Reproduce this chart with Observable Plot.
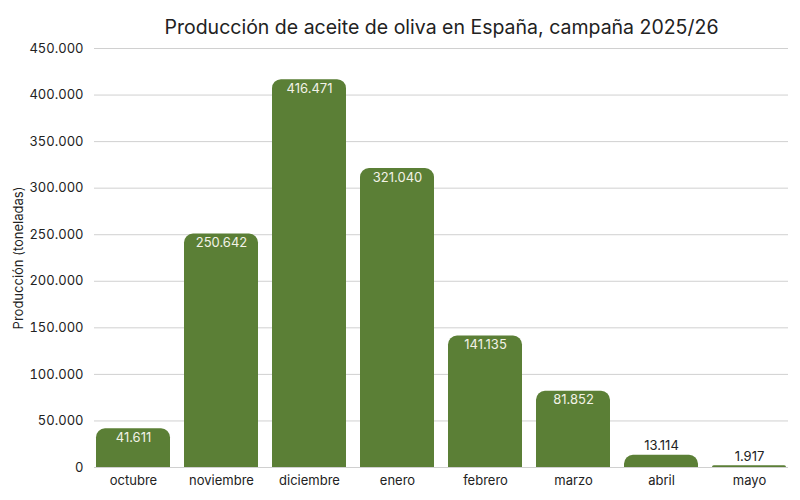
<!DOCTYPE html>
<html><head><meta charset="utf-8">
<script src="https://cdn.jsdelivr.net/npm/d3@7"></script>
<script src="https://cdn.jsdelivr.net/npm/@observablehq/plot@0.6"></script>
<style>
html,body{margin:0;padding:0;background:#fff;}
svg{font-family:Inter,"Noto Sans",sans-serif;}
</style>
</head><body>
<div id="chart"></div>
<script>
const months = ["octubre","noviembre","diciembre","enero","febrero","marzo","abril","mayo"];
const production = [41611, 250642, 416471, 321040, 141135, 81852, 13114, 1917];
const yTicks = [0, 50000, 100000, 150000, 200000, 250000, 300000, 350000, 400000, 450000];
const title = "Producción de aceite de oliva en España, campaña 2025/26";
const yLabel = "Producción (toneladas)";

const loc = d3.formatLocale({decimal: ",", thousands: ".", grouping: [3], currency: ["", " €"]});
const fmt = loc.format(",d");

const data = months.map((m, i) => ({month: m, value: production[i]}));
const inside = data.filter(d => d.value >= 30000);
const outside = data.filter(d => d.value < 30000);
const green = "#5b7f36";

const chart = Plot.plot({
  width: 800,
  height: 500,
  marginLeft: 94,
  marginRight: 12,
  marginTop: 48,
  marginBottom: 33,
  style: {fontFamily: "Inter, 'Noto Sans', sans-serif", fontSize: "13px", color: "#222"},
  x: {domain: months, label: null, paddingInner: 0.16, paddingOuter: 0, tickSize: 0, tickPadding: 8},
  y: {domain: [0, 450000], ticks: yTicks, tickFormat: fmt, label: null, tickSize: 0, tickPadding: 11},
  marks: [
    Plot.gridY(yTicks, {stroke: "#d0d0d0", strokeOpacity: 1}),
    Plot.barY(data, {x: "month", y: "value", fill: green, ry1: 9, rx1y1: 9, rx2y1: 9}),
    Plot.text(inside, {x: "month", y: "value", text: d => fmt(d.value), dy: 9, fill: "#f2f2e6", fontSize: 13}),
    Plot.text(outside, {x: "month", y: "value", text: d => fmt(d.value), dy: -9, fill: "#222", fontSize: 13}),
    Plot.text([title], {frameAnchor: "top", dy: -28, fontSize: 19.5, fill: "#222"}),
    Plot.text([yLabel], {frameAnchor: "left", textAnchor: "middle", dx: -76, rotate: -90, fontSize: 13, fill: "#222"})
  ]
});
document.getElementById("chart").appendChild(chart);
</script>
</body></html>
